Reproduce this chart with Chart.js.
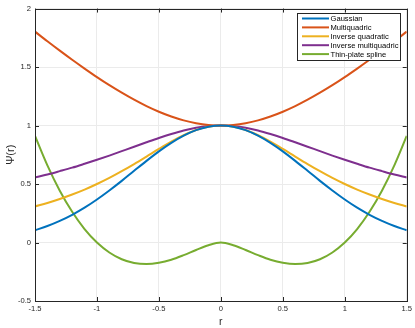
<!DOCTYPE html>
<html><head><meta charset="utf-8">
<script src="https://cdn.jsdelivr.net/npm/chart.js@4/dist/chart.umd.min.js"></script>
<style>html,body{margin:0;padding:0;background:#fff}#wrap{width:415px;height:328px}</style>
</head><body><div id="wrap"><canvas id="c" width="415" height="328"></canvas></div>
<script>
const rValues = [-1.5,-1.4,-1.3,-1.2,-1.1,-1.0,-0.9,-0.8,-0.7,-0.6,-0.5,-0.4,-0.3,-0.2,-0.1,0,0.1,0.2,0.3,0.4,0.5,0.6,0.7,0.8,0.9,1.0,1.1,1.2,1.3,1.4,1.5];
const gaussian = [0.105,0.141,0.185,0.237,0.298,0.368,0.445,0.527,0.613,0.698,0.779,0.852,0.914,0.961,0.990,1,0.990,0.961,0.914,0.852,0.779,0.698,0.613,0.527,0.445,0.368,0.298,0.237,0.185,0.141,0.105];
const multiquadric = [1.803,1.720,1.640,1.562,1.487,1.414,1.345,1.281,1.221,1.166,1.118,1.077,1.044,1.020,1.005,1,1.005,1.020,1.044,1.077,1.118,1.166,1.221,1.281,1.345,1.414,1.487,1.562,1.640,1.720,1.803];
const invQuadratic = [0.308,0.338,0.372,0.410,0.452,0.500,0.552,0.610,0.671,0.735,0.800,0.862,0.917,0.962,0.990,1,0.990,0.962,0.917,0.862,0.800,0.735,0.671,0.610,0.552,0.500,0.452,0.410,0.372,0.338,0.308];
const invMultiquadric = [0.555,0.581,0.610,0.640,0.673,0.707,0.743,0.781,0.819,0.857,0.894,0.928,0.958,0.981,0.995,1,0.995,0.981,0.958,0.928,0.894,0.857,0.819,0.781,0.743,0.707,0.673,0.640,0.610,0.581,0.555];
const thinPlate = [0.912,0.660,0.443,0.263,0.115,0,-0.085,-0.143,-0.175,-0.184,-0.173,-0.147,-0.108,-0.064,-0.023,0,-0.023,-0.064,-0.108,-0.147,-0.173,-0.184,-0.175,-0.143,-0.085,0,0.115,0.263,0.443,0.660,0.912];
const seriesNames = ['Gaussian','Multiquadric','Inverse quadratic','Inverse multiquadric','Thin-plate spline'];
const seriesColors = ['#0072BD','#D95319','#EDB120','#7E2F8E','#77AC30'];
const xTicks = [-1.5,-1,-0.5,0,0.5,1,1.5];
const yTicks = [-0.5,0,0.5,1,1.5,2];

const allSeries = [gaussian, multiquadric, invQuadratic, invMultiquadric, thinPlate];
const datasets = allSeries.map((s,i)=>({
  label: seriesNames[i],
  data: rValues.map((r,j)=>({x:r,y:s[j]})),
  borderColor: seriesColors[i],
  backgroundColor: seriesColors[i],
  borderWidth: 2,
  pointRadius: 0,
  cubicInterpolationMode: 'monotone',
  fill: false
}));

const FONT = '"Liberation Sans", Arial, Helvetica, sans-serif';

const frame = {
  id:'frame',
  afterDatasetsDraw(chart){
    const {ctx, chartArea:a, scales} = chart;
    ctx.save();
    ctx.strokeStyle = '#262626';
    ctx.lineWidth = 1;
    ctx.strokeRect(Math.round(a.left)+0.5, Math.round(a.top)+0.5, Math.round(a.right-a.left), Math.round(a.bottom-a.top));
    ctx.beginPath();
    xTicks.forEach(v=>{const x=Math.round(scales.x.getPixelForValue(v))+0.5;
      ctx.moveTo(x,a.bottom);ctx.lineTo(x,a.bottom-4);ctx.moveTo(x,a.top);ctx.lineTo(x,a.top+4);});
    yTicks.forEach(v=>{const y=Math.round(scales.y.getPixelForValue(v))+0.5;
      ctx.moveTo(a.left,y);ctx.lineTo(a.left+4,y);ctx.moveTo(a.right,y);ctx.lineTo(a.right-4,y);});
    ctx.stroke();
    const lx=297.5, ly=13.5, lw=103, lh=47;
    ctx.fillStyle='#fff';ctx.fillRect(lx,ly,lw,lh);
    ctx.strokeStyle='#262626';ctx.strokeRect(lx,ly,lw,lh);
    ctx.font='7.6px '+FONT;ctx.textBaseline='middle';ctx.textAlign='left';
    chart.data.datasets.forEach((d,i)=>{
      const y = ly+5+i*8.9;
      ctx.strokeStyle=d.borderColor;ctx.lineWidth=2;
      ctx.beginPath();ctx.moveTo(302,y);ctx.lineTo(329,y);ctx.stroke();
      ctx.fillStyle='#000';ctx.fillText(d.label,330.5,y+0.5);
    });
    ctx.restore();
  }
};

new Chart(document.getElementById('c'),{
  type:'line',
  data:{datasets},
  options:{
    responsive:false,animation:false,
    layout:{padding:{top:4,right:6,left:0,bottom:0}},
    plugins:{legend:{display:false},tooltip:{enabled:false}},
    scales:{
      x:{type:'linear',min:-1.5,max:1.5,
        afterBuildTicks(ax){ax.ticks=xTicks.map(v=>({value:v}));},
        afterFit(ax){ax.height=27;},
        grid:{color:'#ebebeb',drawTicks:false},
        border:{display:false},
        ticks:{padding:3,color:'#262626',font:{family:FONT,size:7.6},maxRotation:0,callback:v=>String(v)},
        title:{display:true,text:'r',color:'#262626',font:{family:FONT,size:10.5},padding:{top:0,bottom:0}}
      },
      y:{type:'linear',min:-0.5,max:2,
        afterBuildTicks(ax){ax.ticks=yTicks.map(v=>({value:v}));},
        afterFit(ax){ax.width=35;},
        grid:{color:'#ebebeb',drawTicks:false},
        border:{display:false},
        ticks:{padding:4,color:'#262626',font:{family:FONT,size:7.6},callback:v=>String(v)},
        title:{display:true,text:'Ψ(r)',color:'#262626',font:{family:FONT,size:11},padding:{top:4,bottom:0}}
      }
    }
  },
  plugins:[frame]
});
</script></body></html>
